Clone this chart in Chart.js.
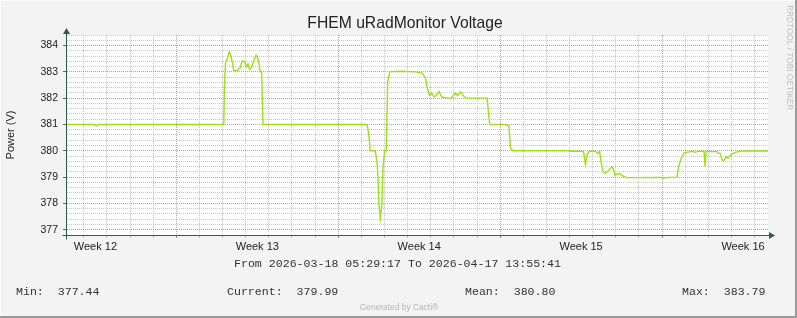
<!DOCTYPE html>
<html>
<head>
<meta charset="utf-8">
<script src="https://cdn.jsdelivr.net/npm/chart.js@4.4.1/dist/chart.umd.min.js"></script>
<style>
html, body { margin: 0; padding: 0; background: #f3f3f3; }
#wrap { width: 797px; height: 318px; }
</style>
</head>
<body>
<div id="wrap"><canvas id="chart" width="797" height="318"></canvas></div>
<script>
'use strict'

// time axis is "day of March" (April days continue as 32, 33, ...)
var START_DAY = 18.2287   // 2026-03-18 05:29:17
var END_DAY = 48.5803     // 2026-04-17 13:55:41

var weekLabels = ['Week 12', 'Week 13', 'Week 14', 'Week 15', 'Week 16']
var weekMids = [19.5, 26.5, 33.5, 40.5, 47.5]
var weekStarts = [23, 30, 37, 44]

var yMin = 376.8
var yMax = 384.4

var times = [
    18.229, 19.456, 19.542, 19.629, 25.052, 25.074, 25.130, 25.190, 25.247, 25.290,
    25.363, 25.433, 25.476, 25.623, 25.765, 25.839, 25.951, 26.025, 26.098, 26.167,
    26.241, 26.340, 26.444, 26.513, 26.573, 26.630, 26.686, 26.746, 31.241, 31.310,
    31.383, 31.600, 31.673, 31.716, 31.759, 31.816, 31.889, 31.932, 32.001, 32.075,
    32.135, 32.222, 32.680, 33.328, 33.631, 33.778, 33.847, 33.950, 34.037, 34.141,
    34.236, 34.357, 34.473, 34.711, 34.866, 34.983, 35.069, 35.156, 35.299, 35.402,
    35.519, 36.435, 36.492, 36.548, 37.187, 37.377, 37.451, 37.550, 39.940, 40.022,
    40.528, 40.610, 40.688, 40.761, 40.848, 41.107, 41.224, 41.302, 41.366, 41.453,
    41.552, 41.682, 41.829, 41.898, 41.971, 42.058, 42.187, 42.304, 42.447, 44.002,
    44.067, 44.154, 44.651, 44.715, 44.854, 44.953, 45.126, 45.299, 45.428, 45.558,
    45.817, 45.861, 45.904, 46.379, 46.444, 46.509, 46.595, 46.682, 46.768, 46.855,
    46.941, 47.028, 47.244, 47.416, 48.580
]
var volts = [
    381.00, 381.00, 380.95, 381.00, 381.00, 382.40, 383.40, 383.45, 383.65, 383.76,
    383.60, 383.30, 383.05, 383.05, 383.15, 383.40, 383.40, 383.20, 383.30, 383.10,
    383.15, 383.40, 383.63, 383.55, 383.30, 383.00, 382.98, 381.00, 381.00, 380.70,
    380.00, 380.00, 379.60, 379.00, 378.00, 377.44, 378.00, 379.30, 380.00, 380.00,
    382.60, 383.00, 383.02, 383.00, 382.95, 382.75, 382.40, 382.10, 382.20, 382.05,
    382.10, 382.25, 382.05, 382.00, 382.00, 382.10, 382.20, 382.10, 382.25, 382.10,
    382.00, 382.00, 381.50, 381.00, 381.00, 380.95, 380.10, 380.00, 380.00, 379.98,
    379.98, 379.95, 379.47, 379.85, 379.98, 379.98, 379.90, 379.98, 379.55, 379.20,
    379.15, 379.25, 379.40, 379.30, 379.05, 379.12, 379.12, 379.05, 378.98, 378.99,
    378.95, 378.98, 379.00, 379.40, 379.78, 379.92, 379.95, 379.98, 379.94, 379.98,
    379.98, 379.40, 379.97, 379.97, 379.90, 379.90, 379.65, 379.63, 379.77, 379.72,
    379.82, 379.88, 379.96, 379.99, 379.99
]

var titleText = 'FHEM uRadMonitor Voltage'
var rangeText = 'From 2026-03-18 05:29:17 To 2026-04-17 13:55:41'
var statLabels = ['Min:  377.44', 'Current:  379.99', 'Mean:  380.80', 'Max:  383.79']

var points = []
for (var i = 0; i < times.length; i++) {
    points.push({x: times[i], y: volts[i]})
}

function isMid(v) {
    return weekMids.indexOf(v) >= 0
}
function isWeekStart(v) {
    return weekStarts.indexOf(v) >= 0
}
function isInt(v) {
    return Math.abs(v - Math.round(v)) < 1e-6
}

var AXIS = '#2f5a4e'
var GRID_GRAY = '#c6c6c6'
var GRID_RED = 'rgba(222, 90, 90, 0.7)'

var decor = {
    id: 'decor',
    beforeDraw: function (chart) {
        var ctx = chart.ctx, a = chart.chartArea
        ctx.save()
        ctx.fillStyle = '#f3f3f3'
        ctx.fillRect(0, 0, chart.width, chart.height)
        ctx.fillStyle = '#ffffff'
        ctx.fillRect(a.left, a.top, a.right - a.left, a.bottom - a.top)
        // frame
        ctx.fillStyle = '#fcfcfc'
        ctx.fillRect(0, 0, chart.width, 1)
        ctx.fillRect(0, 0, 1, chart.height)
        ctx.fillStyle = '#9a9a9a'
        ctx.fillRect(chart.width - 2, 0, 2, chart.height)
        ctx.fillRect(0, chart.height - 2, chart.width, 2)
        ctx.restore()
    },
    afterDraw: function (chart) {
        var ctx = chart.ctx, a = chart.chartArea
        var x0 = Math.round(a.left) + 0.5, y0 = Math.round(a.bottom) + 0.5
        ctx.save()
        ctx.strokeStyle = AXIS
        ctx.fillStyle = AXIS
        ctx.lineWidth = 1
        ctx.beginPath()
        ctx.moveTo(x0, y0 + 4); ctx.lineTo(x0, a.top - 3)
        ctx.moveTo(x0 - 4, y0); ctx.lineTo(a.right + 3, y0)
        ctx.stroke()
        ctx.beginPath()
        ctx.moveTo(x0, a.top - 7); ctx.lineTo(x0 - 3.5, a.top - 1); ctx.lineTo(x0 + 3.5, a.top - 1); ctx.closePath()
        ctx.fill()
        ctx.beginPath()
        ctx.moveTo(a.right + 7, y0); ctx.lineTo(a.right + 1, y0 - 3.5); ctx.lineTo(a.right + 1, y0 + 3.5); ctx.closePath()
        ctx.fill()

        ctx.fillStyle = '#222'
        ctx.font = '15.7px "Liberation Sans", Arial, sans-serif'
        ctx.textAlign = 'center'
        ctx.textBaseline = 'alphabetic'
        ctx.fillText(titleText, 405, 28.3)

        ctx.font = '11.6px "Liberation Mono", "DejaVu Sans Mono", monospace'
        ctx.fillStyle = '#333'
        ctx.textAlign = 'left'
        ctx.textBaseline = 'middle'
        ctx.fillText(rangeText, 234, 263.5)
        var statX = [16, 227, 465, 682]
        for (var i = 0; i < statLabels.length; i++) {
            ctx.fillText(statLabels[i], statX[i], 291.5)
        }

        ctx.fillStyle = '#b4b4b4'
        ctx.font = '8.4px "Liberation Sans", Arial, sans-serif'
        ctx.textAlign = 'center'
        ctx.fillText('Generated by Cacti\u00ae', 399, 307.5)

        ctx.translate(789, 5)
        ctx.rotate(Math.PI / 2)
        ctx.textAlign = 'left'
        ctx.fillStyle = '#c0c0c0'
        ctx.font = '8.3px "Liberation Sans", Arial, sans-serif'
        ctx.fillText('RRDTOOL / TOBI OETIKER', 0, 0)
        ctx.restore()
    }
}

new Chart(document.getElementById('chart'), {
    type: 'line',
    data: {
        datasets: [{
            data: points,
            borderColor: '#9de01a',
            borderWidth: 1.4,
            pointRadius: 0,
            fill: false,
            tension: 0
        }]
    },
    options: {
        responsive: false,
        animation: false,
        devicePixelRatio: 1,
        layout: {padding: {left: 0, top: 35, right: 29, bottom: 61}},
        plugins: {legend: {display: false}, tooltip: {enabled: false}, title: {display: false}},
        scales: {
            x: {
                type: 'linear',
                min: START_DAY,
                max: END_DAY,
                afterBuildTicks: function (scale) {
                    var vals = []
                    for (var d = 19; d <= 48; d++) vals.push(d)
                    vals = vals.concat(weekMids).sort(function (a, b) { return a - b })
                    scale.ticks = vals.map(function (v) { return {value: v} })
                },
                afterFit: function (scale) { scale.height = 22 },
                grid: {
                    color: function (c) {
                        var v = c.tick ? c.tick.value : 0
                        if (isMid(v)) return 'rgba(0,0,0,0)'
                        return isWeekStart(v) ? GRID_RED : GRID_GRAY
                    },
                    tickColor: function (c) {
                        var v = c.tick ? c.tick.value : 0
                        if (isMid(v)) return 'rgba(0,0,0,0)'
                        return isWeekStart(v) ? '#e07070' : '#bbbbbb'
                    },
                    tickLength: 3,
                    lineWidth: 1
                },
                border: {display: true, color: AXIS, dash: [1, 1]},
                ticks: {
                    autoSkip: false,
                    maxRotation: 0,
                    padding: 2,
                    color: '#222',
                    font: {family: '"Liberation Sans", Arial, sans-serif', size: 11},
                    callback: function (value) {
                        var k = weekMids.indexOf(value)
                        return k >= 0 ? weekLabels[k] : ''
                    }
                }
            },
            y: {
                min: yMin,
                max: yMax,
                afterBuildTicks: function (scale) {
                    var vals = []
                    for (var k = Math.round(yMin * 5); k <= Math.round(yMax * 5); k++) vals.push(k / 5)
                    scale.ticks = vals.map(function (v) { return {value: v} })
                },
                afterFit: function (scale) { scale.width = 66 },
                grid: {
                    color: function (c) {
                        var v = c.tick ? c.tick.value : 0
                        return isInt(v) ? GRID_RED : GRID_GRAY
                    },
                    tickColor: function (c) {
                        var v = c.tick ? c.tick.value : 0
                        return isInt(v) ? '#666' : 'rgba(0,0,0,0)'
                    },
                    tickLength: 3,
                    lineWidth: 1
                },
                border: {display: true, color: AXIS, dash: [1, 1]},
                title: {
                    display: true,
                    text: 'Power (V)',
                    color: '#222',
                    font: {family: '"Liberation Sans", Arial, sans-serif', size: 11},
                    padding: {top: 4.4, bottom: 0}
                },
                ticks: {
                    autoSkip: false,
                    padding: 5,
                    color: '#222',
                    font: {family: '"Liberation Sans", Arial, sans-serif', size: 10.5},
                    callback: function (value) {
                        return isInt(value) ? Math.round(value).toString() : ''
                    }
                }
            }
        }
    },
    plugins: [decor]
})
</script>
</body>
</html>
